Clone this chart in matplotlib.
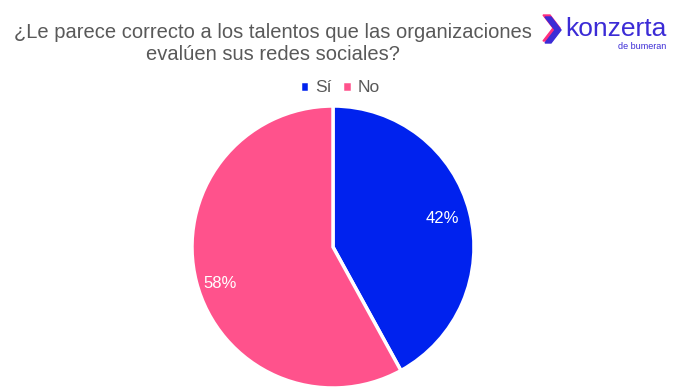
import matplotlib
matplotlib.use("Agg")
import matplotlib.pyplot as plt
from matplotlib.patches import Polygon

labels = ["Sí", "No"]
values = [42, 58]
colors = ["#0022EE", "#FF528C"]

title = "¿Le parece correcto a los talentos que las organizaciones\nevalúen sus redes sociales?"

plt.rcParams['font.family'] = ['Liberation Sans', 'DejaVu Sans']
fig = plt.figure(figsize=(6.82, 3.90), dpi=100)

R = 141
ax = fig.add_axes([(333 - R)/682, 1 - (247 + R)/390, 2*R/682, 2*R/390])
wedges, texts, autotexts = ax.pie(values, colors=colors, startangle=90, counterclock=False,
                                  autopct='%1.0f%%', pctdistance=0.8,
                                  wedgeprops=dict(edgecolor='white', linewidth=2.5),
                                  textprops=dict(color='white', fontsize=12))
autotexts[1].set_position((-0.80, -0.26))
ax.set_xlim(-1, 1)
ax.set_ylim(-1, 1)
ax.set_aspect('equal')

fig.text(273/682, 1 - 43/390, title, ha='center', va='center', fontsize=14.5,
         color='#595959', linespacing=1.2)

leg = fig.legend(wedges, labels, loc='center', bbox_to_anchor=(340/682, 1 - 88/390), ncol=2,
                 frameon=False, fontsize=12.5, handlelength=0.55, handleheight=0.55,
                 handletextpad=0.35, columnspacing=0.6, labelcolor='#595959')

# logo
lx = fig.add_axes([540/682, 1 - 52/390, 140/682, 42/390])
lx.set_xlim(0, 140)
lx.set_ylim(42, 0)
lx.axis('off')
lx.add_patch(Polygon([(3, 5), (10, 5), (20, 18), (10, 31), (3, 31), (13, 18)], closed=True,
                     color='#FF2E7E'))
lx.add_patch(Polygon([(5, 7), (11, 7), (21, 20), (11, 33), (5, 33), (15, 20)], closed=True,
                     color='#3B2BD6'))
lx.text(25, 19, "konzerta", fontsize=19, color='#3B2BD6', va='center', ha='left')
lx.text(126, 36.5, "de bumeran", fontsize=6.5, color='#3B2BD6', va='center', ha='right')

fig.savefig("out.png", dpi=100, facecolor='white')
